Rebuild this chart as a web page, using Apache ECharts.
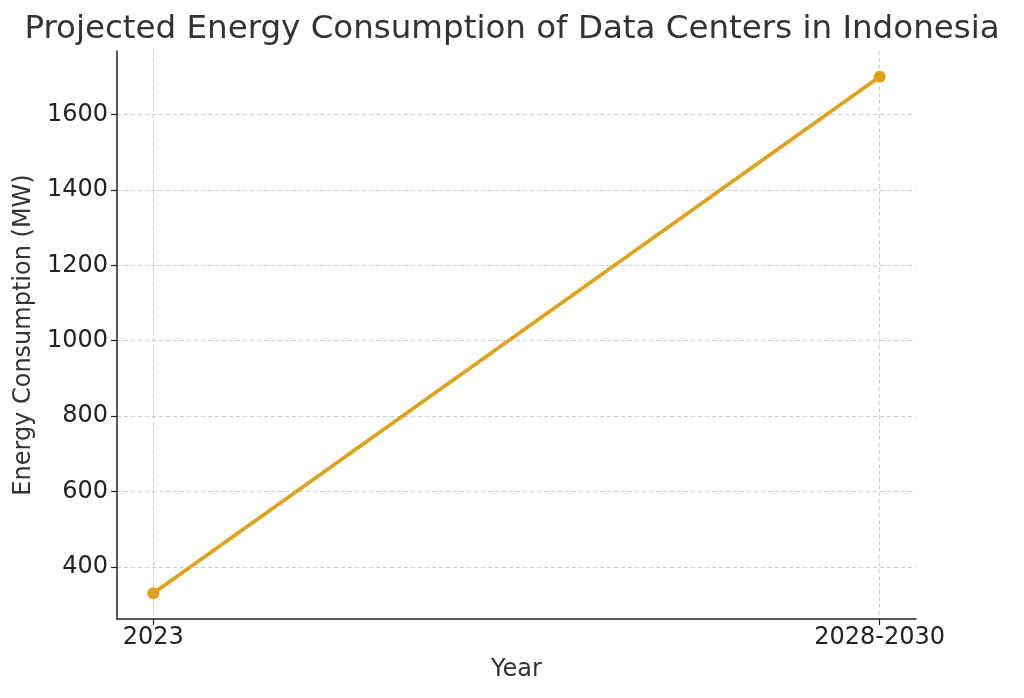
<!DOCTYPE html>
<html><head><meta charset="utf-8">
<script src="https://cdn.jsdelivr.net/npm/echarts@6/dist/echarts.min.js"></script>
<style>html,body{margin:0;padding:0;background:#fff}#c{width:1024px;height:698px}</style>
</head><body><div id="c"></div>
<script>
const categories = ['2023', '2028-2030'];
const values = [330, 1700];
const yTicks = [400, 600, 800, 1000, 1200, 1400, 1600];

const chart = echarts.init(document.getElementById('c'));
const font = 'DejaVu Sans';
chart.setOption({
  animation: false,
  title: {
    text: 'Projected Energy Consumption of Data Centers in Indonesia',
    left: 'center', top: 8,
    textStyle: { fontFamily: font, fontSize: 32.5, fontWeight: 'normal', color: '#333' }
  },
  grid: { left: 117, right: 108, top: 51, bottom: 79, containLabel: false },
  xAxis: {
    type: 'value', min: -0.05, max: 1.05,
    name: 'Year', nameLocation: 'middle', nameGap: 39,
    nameTextStyle: { fontFamily: font, fontSize: 24, color: '#333' },
    axisLine: { show: true, onZero: false, lineStyle: { color: '#222', width: 1.5 } },
    axisTick: { show: true, customValues: [0, 1], length: 6, lineStyle: { color: '#222', width: 1.2 } },
    axisLabel: { customValues: [0, 1], fontFamily: font, fontSize: 24, color: '#222', margin: 7,
      formatter: v => categories[Math.round(v)] },
    splitLine: { show: true, lineStyle: { type: [4, 3], color: '#ccc', width: 1 } }
  },
  yAxis: {
    type: 'value', min: 261.5, max: 1768.5,
    name: 'Energy Consumption (MW)', nameLocation: 'middle', nameGap: 74, nameRotate: 90,
    nameTextStyle: { fontFamily: font, fontSize: 24, color: '#333' },
    axisLine: { show: true, onZero: false, lineStyle: { color: '#222', width: 1.5 } },
    axisTick: { show: true, customValues: yTicks, length: 6, lineStyle: { color: '#222', width: 1.2 } },
    axisLabel: { customValues: yTicks, fontFamily: font, fontSize: 24, color: '#222', margin: 9,
      formatter: v => String(v) },
    splitLine: { show: true, lineStyle: { type: [4, 3], color: '#ccc', width: 1 } }
  },
  series: [{
    type: 'line',
    data: values.map((v, i) => [i, v]),
    symbol: 'circle', symbolSize: 12,
    lineStyle: { color: '#E0A11B', width: 3.8 },
    itemStyle: { color: '#E0A11B' }
  }]
});
</script></body></html>
